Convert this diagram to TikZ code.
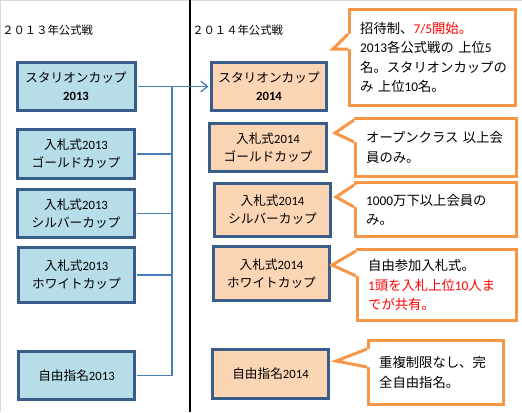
\documentclass[tikz,border=0pt]{standalone}
\usepackage{fontspec}
\setmainfont{Noto Sans CJK JP}
\newfontfamily\latfont{Carlito}
\usetikzlibrary{arrows.meta,calc}

\definecolor{cupblue}{HTML}{B7DDE8}
\definecolor{cuporange}{HTML}{FCD5B5}
\definecolor{cupframe}{HTML}{385D8A}
\definecolor{noteorange}{HTML}{F79646}
\definecolor{linkblue}{HTML}{4A7EBB}
\definecolor{gridgray}{HTML}{D9D9D9}
\newcommand\pxu{0.75pt}
\newcommand\dg[1]{{\latfont #1}}
\newcommand\dgb[1]{{\latfont\bfseries #1}}

\tikzset{
  cup/.style={draw=cupframe, line width=2.25pt, align=center, inner sep=0pt,
    font=\fontsize{9.5}{13.5}\selectfont},
  cup13/.style={cup, fill=cupblue},
  cup14/.style={cup, fill=cuporange},
  note/.style={draw=noteorange, line width=2.25pt, fill=white, align=left,
    inner xsep=8pt, inner ysep=0pt, font=\fontsize{10}{14.5}\selectfont},
  noteline/.style={draw=noteorange, line width=2.25pt},
  link/.style={draw=linkblue, line width=1pt},
  title/.style={font=\fontsize{8.5}{10}\selectfont, inner sep=0pt}
}

\begin{document}
\begin{tikzpicture}[x=0.75pt,y=-0.75pt]
\useasboundingbox (0,0) rectangle (522,412);
% sheet edges
\draw[gridgray] (0,0.5) -- (522,0.5);
\draw[gridgray] (0.5,0) -- (0.5,412);
% column titles and divider
\node[title, anchor=west] (h13) at (2,30) {２０１３年公式戦};
\node[title, anchor=west] (h14) at (192,30) {２０１４年公式戦};
\coordinate (divtop) at (190,0);
\coordinate (divbot) at (190,412);
\draw[black, line width=1pt] (divtop) -- (divbot);

% 2013 cups
\node[cup13, minimum width=118*\pxu, minimum height=48*\pxu] (s13) at (76,86.5) {スタリオンカップ\\\dgb{2013}};
\node[cup13, minimum width=117*\pxu, minimum height=49*\pxu] (g13) at (76,154) {入札式\dg{2013}\\ゴールドカップ};
\node[cup13, minimum width=117*\pxu, minimum height=48*\pxu] (v13) at (76,213.5) {入札式\dg{2013}\\シルバーカップ};
\node[cup13, minimum width=116*\pxu, minimum height=55*\pxu] (w13) at (76.5,275) {入札式\dg{2013}\\ホワイトカップ};
\node[cup13, minimum width=116*\pxu, minimum height=48*\pxu] (f13) at (76.5,375.5) {自由指名\dg{2013}};

% 2014 cups
\node[cup14, minimum width=115*\pxu, minimum height=48*\pxu] (s14) at (269,86.5) {スタリオンカップ\\\dgb{2014}};
\node[cup14, minimum width=117*\pxu, minimum height=48*\pxu] (g14) at (268,147.5) {入札式\dg{2014}\\ゴールドカップ};
\node[cup14, minimum width=116*\pxu, minimum height=53*\pxu] (v14) at (272.5,210) {入札式\dg{2014}\\シルバーカップ};
\node[cup14, minimum width=116*\pxu, minimum height=54*\pxu] (w14) at (271.5,273.5) {入札式\dg{2014}\\ホワイトカップ};
\node[cup14, minimum width=116*\pxu, minimum height=49*\pxu] (f14) at (270.5,374) {自由指名\dg{2014}};

% links 2013 -> 2014
\coordinate (bus) at (172,86.5);
\draw[link, shorten <=1.1pt, shorten >=1.1pt, -{Straight Barb[length=5pt,width=8pt]}] (s13.east) -- (s14.west);
\foreach \n in {g13,v13,w13,f13}
  \draw[link, shorten <=1.1pt] (\n.east) -- (\n.east -| bus);
\draw[link] (bus) -- (f13.east -| bus);

% notes
\node[note, minimum width=166*\pxu, minimum height=96*\pxu, text width=108.5pt] (c1) at (432.5,57.5)
  {招待制、\textcolor{red}{\dg{7/5}開始。}\\\dg{2013}各公式戦の 上位\dg{5}\\名。スタリオンカップの\\み 上位\dg{10}名。};
\node[note, minimum width=161*\pxu, minimum height=58*\pxu, text width=104.75pt] (c2) at (436,147.5)
  {オープンクラス 以上会\\員のみ。};
\node[note, minimum width=161*\pxu, minimum height=54*\pxu, text width=104.75pt] (c3) at (436,209.5)
  {\dg{1000}万下以上会員の\\み。};
\node[note, minimum width=159*\pxu, minimum height=71*\pxu, text width=103.25pt] (c4) at (437,285)
  {自由参加入札式。\\\textcolor{red}{\dg{1}頭を入札上位\dg{10}人ま}\\\textcolor{red}{でが共有。}};
\node[note, minimum width=135*\pxu, minimum height=64*\pxu, text width=85.25pt] (c5) at (436,372.5)
  {重複制限なし、完\\全自由指名。};

% note pointers
\coordinate (tipc1) at (333,49);
\coordinate (tipc2) at (335,133);
\coordinate (tipc3) at (336,197);
\coordinate (tipc4) at (332,265);
\coordinate (tipc5) at (336,361);
\foreach \n/\up/\lo in {c1/26/41,c2/3/25,c3/4/26,c4/3/28,c5/10/28} {
  \fill[white] ($(\n.north west)+(0,\up)$) -- (tip\n) -- ($(\n.north west)+(0,\lo)$)
    -- ++(4,0) -- ($(\n.north west)+(4,\up)$) -- cycle;
  \draw[noteline] ($(\n.north west)+(0,\up)$) -- (tip\n) -- ($(\n.north west)+(0,\lo)$);
}
\end{tikzpicture}
\end{document}
